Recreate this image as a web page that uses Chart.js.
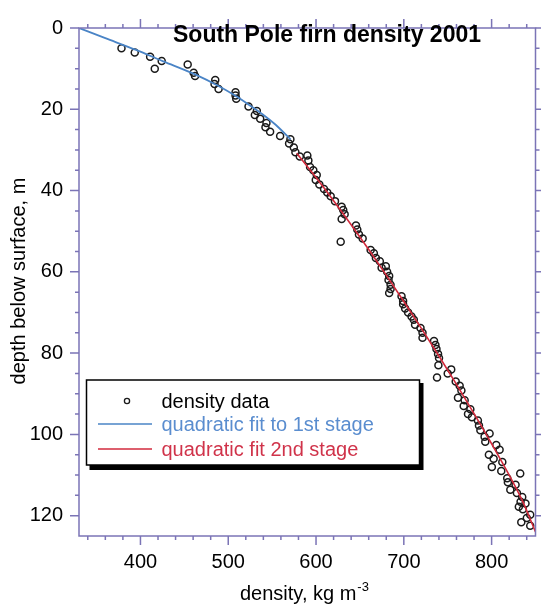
<!DOCTYPE html>
<html>
<head>
<meta charset="utf-8">
<script src="https://cdn.jsdelivr.net/npm/chart.js@4.4.0/dist/chart.umd.min.js"></script>
<style>
  body { margin: 0; background: #fff; }
  canvas { display: block; }
</style>
</head>
<body>
<canvas id="myChart" width="541" height="609"></canvas>
<script>
var densities = [
  378.4, 393.5, 411.0, 416.3, 424.2, 453.8, 460.6, 462.2, 485.2, 484.4, 489.0, 508.3, 508.3, 509.1,
  523.1, 532.6, 530.3, 536.4, 543.5, 542.4, 547.7, 559.1, 570.8, 569.3, 574.7, 576.5, 581.5, 590.1,
  591.3, 593.2, 596.9, 600.8, 599.7, 603.8, 609.1, 612.8, 616.7, 621.6,
  629.2, 631.0, 632.6, 629.2, 628.1, 645.5, 647.0, 648.9, 653.1, 662.2, 665.9, 668.2, 672.7, 674.7,
  679.5, 681.0, 683.3, 682.6, 684.9, 684.9, 683.3, 697.4, 699.2,
  699.2, 701.5, 704.9, 708.8, 711.4, 712.8, 719.0, 721.3, 721.3, 734.4, 736.0, 737.2, 739.0, 740.1,
  739.4, 737.8, 750.0, 754.0, 759.1, 763.6, 765.6, 761.7, 769.3,
  768.2, 775.8, 773.1, 777.6, 784.4, 785.6, 787.2, 797.7, 792.0, 792.8, 805.3, 809.1, 796.9, 802.3,
  800.3, 812.2, 811.0, 817.8, 818.5, 832.6, 827.3, 821.3, 828.8, 834.9, 833.0, 838.6, 831.0, 835.6,
  844.0, 840.1, 833.8, 844.0
]
var depths = [
  5.0, 6.0, 7.1, 10.0, 8.1, 9.0, 11.0, 11.8, 12.8, 13.8, 15.0, 15.8, 16.6, 17.4,
  19.3, 20.4, 21.4, 22.3, 23.4, 24.4, 25.5, 26.6, 27.4, 28.4, 29.4, 30.6, 31.6, 31.4,
  32.6, 34.2, 35.0, 36.2, 37.4, 38.5, 39.6, 40.5, 41.4, 42.6,
  44.0, 44.8, 45.8, 47.0, 52.6, 48.6, 49.6, 50.8, 51.8, 54.6, 55.4, 56.6, 57.4, 59.0,
  58.6, 60.0, 61.0, 62.0, 63.2, 64.2, 65.2, 66.0, 67.2,
  68.0, 69.0, 70.0, 71.0, 71.8, 73.0, 73.8, 75.0, 76.2, 77.0, 78.0, 79.0, 80.2, 81.2,
  83.0, 86.0, 85.0, 84.0, 87.0, 88.0, 89.2, 91.0, 91.6,
  93.0, 93.8, 95.0, 95.8, 96.6, 97.8, 99.0, 99.8, 100.6, 101.8, 102.6, 103.8, 105.0, 106.0,
  108.0, 106.8, 109.0, 110.8, 111.8, 109.6, 112.4, 113.6, 114.4, 115.4, 116.6, 117.0, 117.8, 118.4,
  119.8, 120.6, 121.6, 122.5
]

// fit curves
var fit1Density = [330, 360, 395, 426, 461, 490, 509, 523, 539, 554, 571]
var fit1Depth   = [0, 2.5, 5.4, 8.2, 11.3, 14.4, 16.8, 18.8, 21.2, 23.8, 27.4]
var fit2Density = [578, 600, 620, 640, 660, 680, 700, 720, 740, 760, 780, 800, 820, 835, 850]
var fit2Depth   = [30.8, 36.8, 42.5, 48.4, 54.5, 60.8, 67.3, 73.9, 80.7, 87.7, 94.9, 102.3, 110.0, 116.3, 124.0]

var xTicks = [400, 500, 600, 700, 800]
var yTicks = [0, 20, 40, 60, 80, 100, 120]
var xMinorStep = 20
var yMinorStep = 5

var axisColor = '#7b74b6'
var blue = '#4a84c6'
var red = '#d22a3c'
var font = "'Liberation Sans', Arial, Helvetica, sans-serif"

function pairs(xs, ys) {
    return xs.map(function (v, i) { return { x: v, y: ys[i] } })
}

// frame, tick marks, titles and the boxed legend
var decorations = {
    id: 'decorations',
    afterDraw: function (chart) {
        var ctx = chart.ctx
        var a = chart.chartArea
        var x = chart.scales.x
        var y = chart.scales.y
        ctx.save()
        ctx.strokeStyle = axisColor
        ctx.lineWidth = 1.5
        ctx.strokeRect(a.left, a.top, a.right - a.left, a.bottom - a.top)

        ctx.beginPath()
        for (var v = 340; v <= 840; v += xMinorStep) {
            var px = x.getPixelForValue(v)
            var len = xTicks.indexOf(v) >= 0 ? 9 : 4
            ctx.moveTo(px, a.bottom); ctx.lineTo(px, a.bottom + len)
            ctx.moveTo(px, a.top); ctx.lineTo(px, a.top - len)
        }
        for (var d = 0; d <= 120; d += yMinorStep) {
            var py = y.getPixelForValue(d)
            var l = yTicks.indexOf(d) >= 0 ? 9 : 4
            ctx.moveTo(a.left, py); ctx.lineTo(a.left - l, py)
            ctx.moveTo(a.right, py); ctx.lineTo(a.right + l, py)
        }
        ctx.stroke()

        // title inside the plot
        ctx.fillStyle = '#000'
        ctx.font = 'bold 23px ' + font
        ctx.textAlign = 'center'
        ctx.textBaseline = 'alphabetic'
        ctx.fillText('South Pole firn density 2001', 327, 42)

        // x axis title with superscript
        ctx.textAlign = 'left'
        ctx.font = '20px ' + font
        var base = 'density, kg m'
        var bx = 240
        ctx.fillText(base, bx, 600)
        var w = ctx.measureText(base).width
        ctx.font = '13px ' + font
        ctx.fillText('-3', bx + w + 1, 591)

        // y axis title
        ctx.save()
        ctx.translate(25, 281)
        ctx.rotate(-Math.PI / 2)
        ctx.textAlign = 'center'
        ctx.font = '20px ' + font
        ctx.fillText('depth below surface, m', 0, 0)
        ctx.restore()

        // legend box with drop shadow
        var lx = 86.5, ly = 380, lw = 333, lh = 85
        ctx.fillStyle = '#000'
        ctx.fillRect(lx + 3, ly + 3, lw + 1, lh + 2)
        ctx.fillStyle = '#fff'
        ctx.fillRect(lx, ly, lw, lh)
        ctx.strokeStyle = '#000'
        ctx.lineWidth = 1.5
        ctx.strokeRect(lx, ly, lw, lh)

        var ds = chart.data.datasets
        ctx.font = '20px ' + font
        ctx.textBaseline = 'middle'
        ctx.textAlign = 'left'

        ctx.beginPath()
        ctx.arc(127, 401, 2.6, 0, Math.PI * 2)
        ctx.strokeStyle = ds[0].borderColor
        ctx.lineWidth = 1.3
        ctx.stroke()
        ctx.fillStyle = '#000'
        ctx.fillText(ds[0].label, 161.5, 402)

        var rows = [[ds[1], 424, '#5a8dcf'], [ds[2], 449, '#d0334a']]
        rows.forEach(function (r) {
            ctx.beginPath()
            ctx.moveTo(98, r[1]); ctx.lineTo(152, r[1])
            ctx.strokeStyle = r[0].borderColor
            ctx.lineWidth = 1.6
            ctx.stroke()
            ctx.fillStyle = r[2]
            ctx.fillText(r[0].label, 161.5, r[1] + 1)
        })
        ctx.restore()
    }
}

var ctx = document.getElementById('myChart').getContext('2d')
var chart = new Chart(ctx, {
    type: 'scatter',
    data: {
        datasets: [{
            label: 'density data',
            data: pairs(densities, depths),
            pointStyle: 'circle',
            pointRadius: 3.5,
            borderWidth: 1.5,
            borderColor: '#1a1a1a',
            backgroundColor: 'rgba(0,0,0,0)',
            order: 2
        },
        {
            label: 'quadratic fit to 1st stage',
            data: pairs(fit1Density, fit1Depth),
            showLine: true,
            borderColor: blue,
            borderWidth: 1.8,
            pointRadius: 0,
            cubicInterpolationMode: 'monotone',
            order: 1
        },
        {
            label: 'quadratic fit 2nd stage',
            data: pairs(fit2Density, fit2Depth),
            showLine: true,
            borderColor: red,
            borderWidth: 1.6,
            pointRadius: 0,
            cubicInterpolationMode: 'monotone',
            order: 1
        }]
    },
    options: {
        responsive: false,
        animation: false,
        layout: { padding: { left: 0, right: 5, top: 15, bottom: 0 } },
        plugins: { legend: { display: false }, tooltip: { enabled: false } },
        scales: {
            x: {
                type: 'linear',
                min: 330,
                max: 850,
                grid: { display: false, drawTicks: false },
                border: { display: false },
                afterBuildTicks: function (s) { s.ticks = xTicks.map(function (v) { return { value: v } }) },
                afterFit: function (s) { s.height = 73 },
                ticks: { color: '#000', padding: 14, font: { size: 20, family: font }, maxRotation: 0 }
            },
            y: {
                type: 'linear',
                reverse: true,
                min: 0,
                max: 125,
                grid: { display: false, drawTicks: false },
                border: { display: false },
                afterBuildTicks: function (s) { s.ticks = yTicks.map(function (v) { return { value: v } }) },
                afterFit: function (s) { s.width = 79 },
                ticks: { color: '#000', padding: 16, font: { size: 20, family: font } }
            }
        }
    },
    plugins: [decorations]
})
</script>
</body>
</html>
